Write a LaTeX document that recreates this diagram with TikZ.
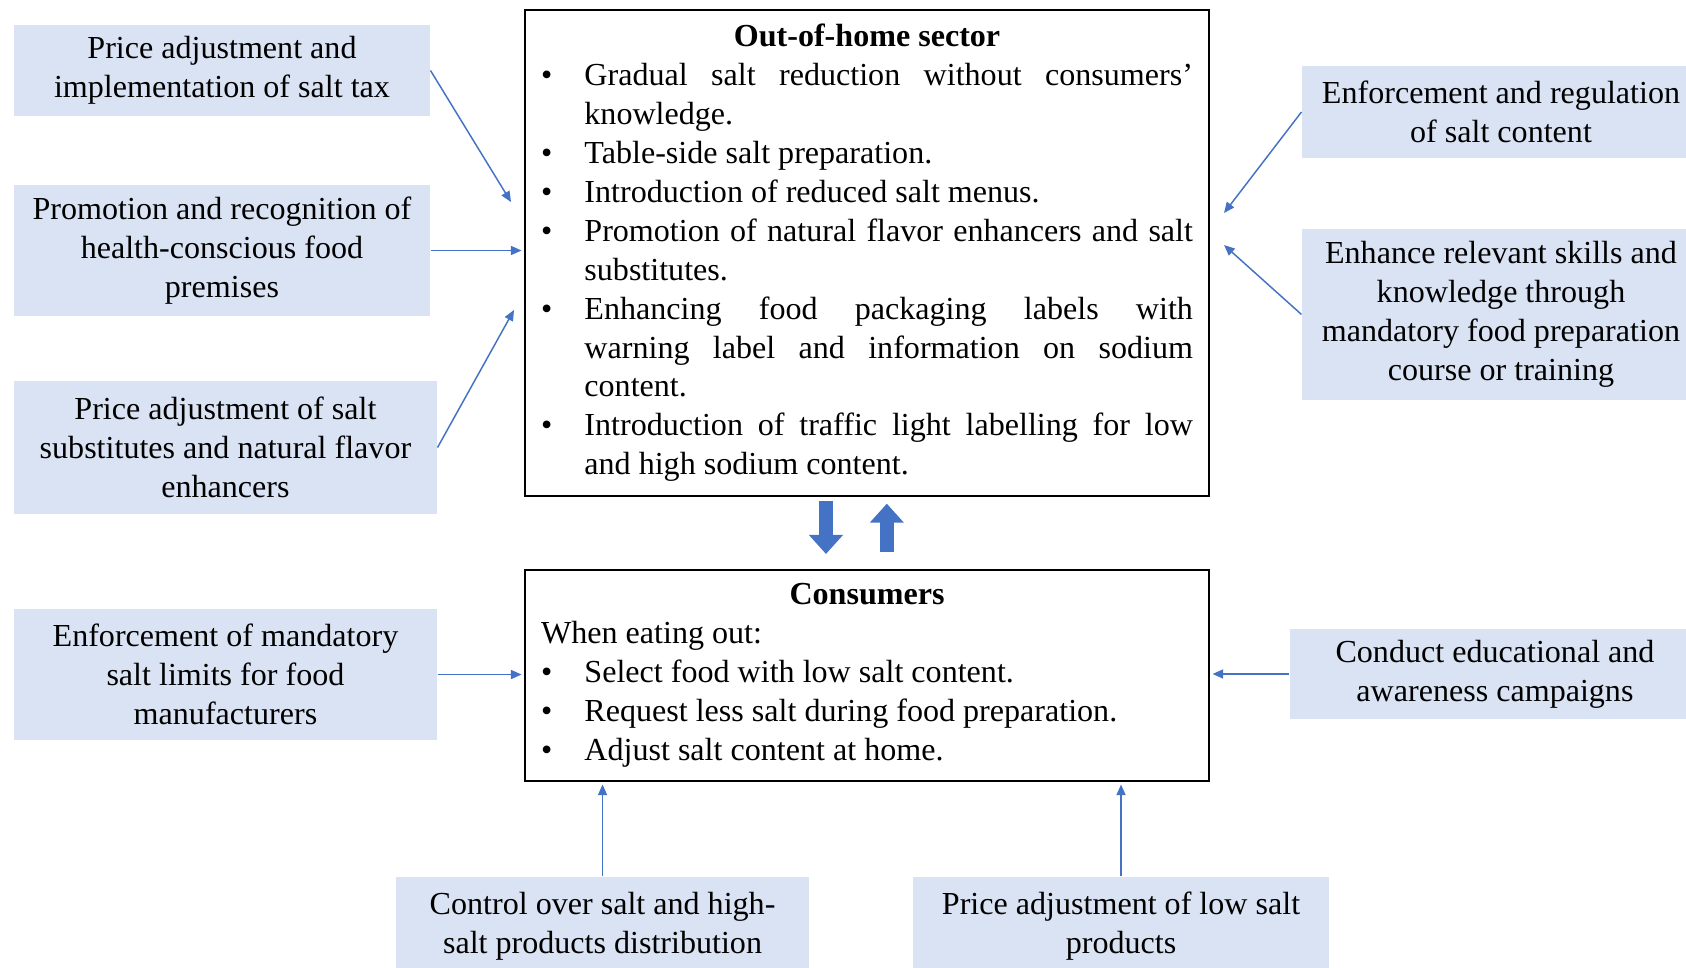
\documentclass[tikz,border=0pt]{standalone}
\usepackage{fontspec}
\setmainfont{Liberation Serif}
\usepackage{xcolor}
\usepackage{tikz}
\usetikzlibrary{arrows.meta}

\definecolor{policyblue}{HTML}{DAE3F3}
\definecolor{linkblue}{HTML}{4472C4}

\newcommand{\bitem}[1]{\par\noindent\hangindent=0.57cm\hangafter=1\makebox[0.57cm][l]{\textbullet}#1\par}

\begin{document}
\begin{tikzpicture}[
    every node/.style={font=\fontsize{12}{14.55}\selectfont},
    policy/.style={fill=policyblue, align=center, inner sep=0pt},
    sector/.style={draw, line width=0.6pt, text width=8.57cm, inner xsep=0.21cm, inner ysep=0pt, align=justify, minimum width=8.992cm},
    link/.style={draw=linkblue, line width=0.55pt, -{Triangle[length=4pt, width=3.4pt]}},
    bigarrow/.style={draw=linkblue, line width=5.2pt, -{Triangle[length=7.1pt, width=12.3pt]}}]
    \useasboundingbox (0,0) rectangle (22.164,-12.725);

    \node[sector, minimum height=6.389cm] (out) at (11.398,-3.326) {\hyphenpenalty=10000
        {\centering\bfseries Out-of-home sector\par}
        \bitem{Gradual salt reduction without consumers’ knowledge.}
        \bitem{Table-side salt preparation.}
        \bitem{Introduction of reduced salt menus.}
        \bitem{Promotion of natural flavor enhancers and salt substitutes.}
        \bitem{Enhancing food packaging labels with\linebreak warning label and information on sodium content.}
        \bitem{Introduction of traffic light labelling for low\linebreak and high sodium content.}};
    \node[sector, minimum height=2.774cm] (con) at (11.398,-8.880) {\hyphenpenalty=10000
        {\centering\bfseries Consumers\par}
        \noindent When eating out:
        \bitem{Select food with low salt content.}
        \bitem{Request less salt during food preparation.}
        \bitem{Adjust salt content at home.}};

    \node[policy, minimum width=5.469cm, minimum height=1.196cm] (pa) at (2.918,-0.927) {Price adjustment and\\implementation of salt tax};
    \node[policy, minimum width=5.469cm, minimum height=1.722cm] (pr) at (2.918,-3.293) {Promotion and recognition of\\health-conscious food\\premises};
    \node[policy, minimum width=5.561cm, minimum height=1.748cm] (ps) at (2.964,-5.883) {Price adjustment of salt\\substitutes and natural flavor\\enhancers};
    \node[policy, minimum width=5.561cm, minimum height=1.722cm] (em) at (2.964,-8.867) {Enforcement of mandatory\\salt limits for food\\manufacturers};
    \node[policy, minimum width=5.232cm, minimum height=1.209cm] (er) at (19.732,-1.472) {Enforcement and regulation\\of salt content};
    \node[policy, minimum width=5.232cm, minimum height=2.248cm] (es) at (19.732,-4.134) {Enhance relevant skills and\\knowledge through\\mandatory food preparation\\course or training};
    \node[policy, minimum width=5.390cm, minimum height=1.183cm] (ce) at (19.653,-8.860) {Conduct educational and\\awareness campaigns};
    \node[policy, minimum width=5.429cm, minimum height=1.288cm] (cs) at (7.921,-12.173) {Control over salt and high-\\salt products distribution};
    \node[policy, minimum width=5.469cm, minimum height=1.288cm] (pl) at (14.737,-12.173) {Price adjustment of low salt\\products};

    \coordinate (paend) at (6.718,-2.656);
    \coordinate (psend) at (6.757,-4.075);
    \coordinate (erend) at (16.091,-2.800);
    \coordinate (esend) at (16.091,-3.221);

    \draw[link] (pa.east) -- (paend);
    \draw[link, shorten >=1pt] (pr.east) -- (pr.east -| out.west);
    \draw[link] (ps.east) -- (psend);
    \draw[link] (er.west) -- (erend);
    \draw[link] (es.west) -- (esend);
    \draw[link, shorten >=1pt] (em.east) -- (em.east -| con.west);
    \draw[link, shorten >=1pt] (ce.west) -- (ce.west -| con.east);
    \draw[link, shorten >=1pt] (cs.north) -- (cs.north |- con.south);
    \draw[link, shorten >=1pt] (pl.north) -- (pl.north |- con.south);

    \draw[bigarrow, shorten <=0.05cm, shorten >=0.2cm] ([xshift=-0.54cm]out.south) -- ([xshift=-0.54cm]con.north);
    \draw[bigarrow, shorten <=0.22cm, shorten >=0.09cm] ([xshift=0.26cm]con.north) -- ([xshift=0.26cm]out.south);
\end{tikzpicture}
\end{document}
